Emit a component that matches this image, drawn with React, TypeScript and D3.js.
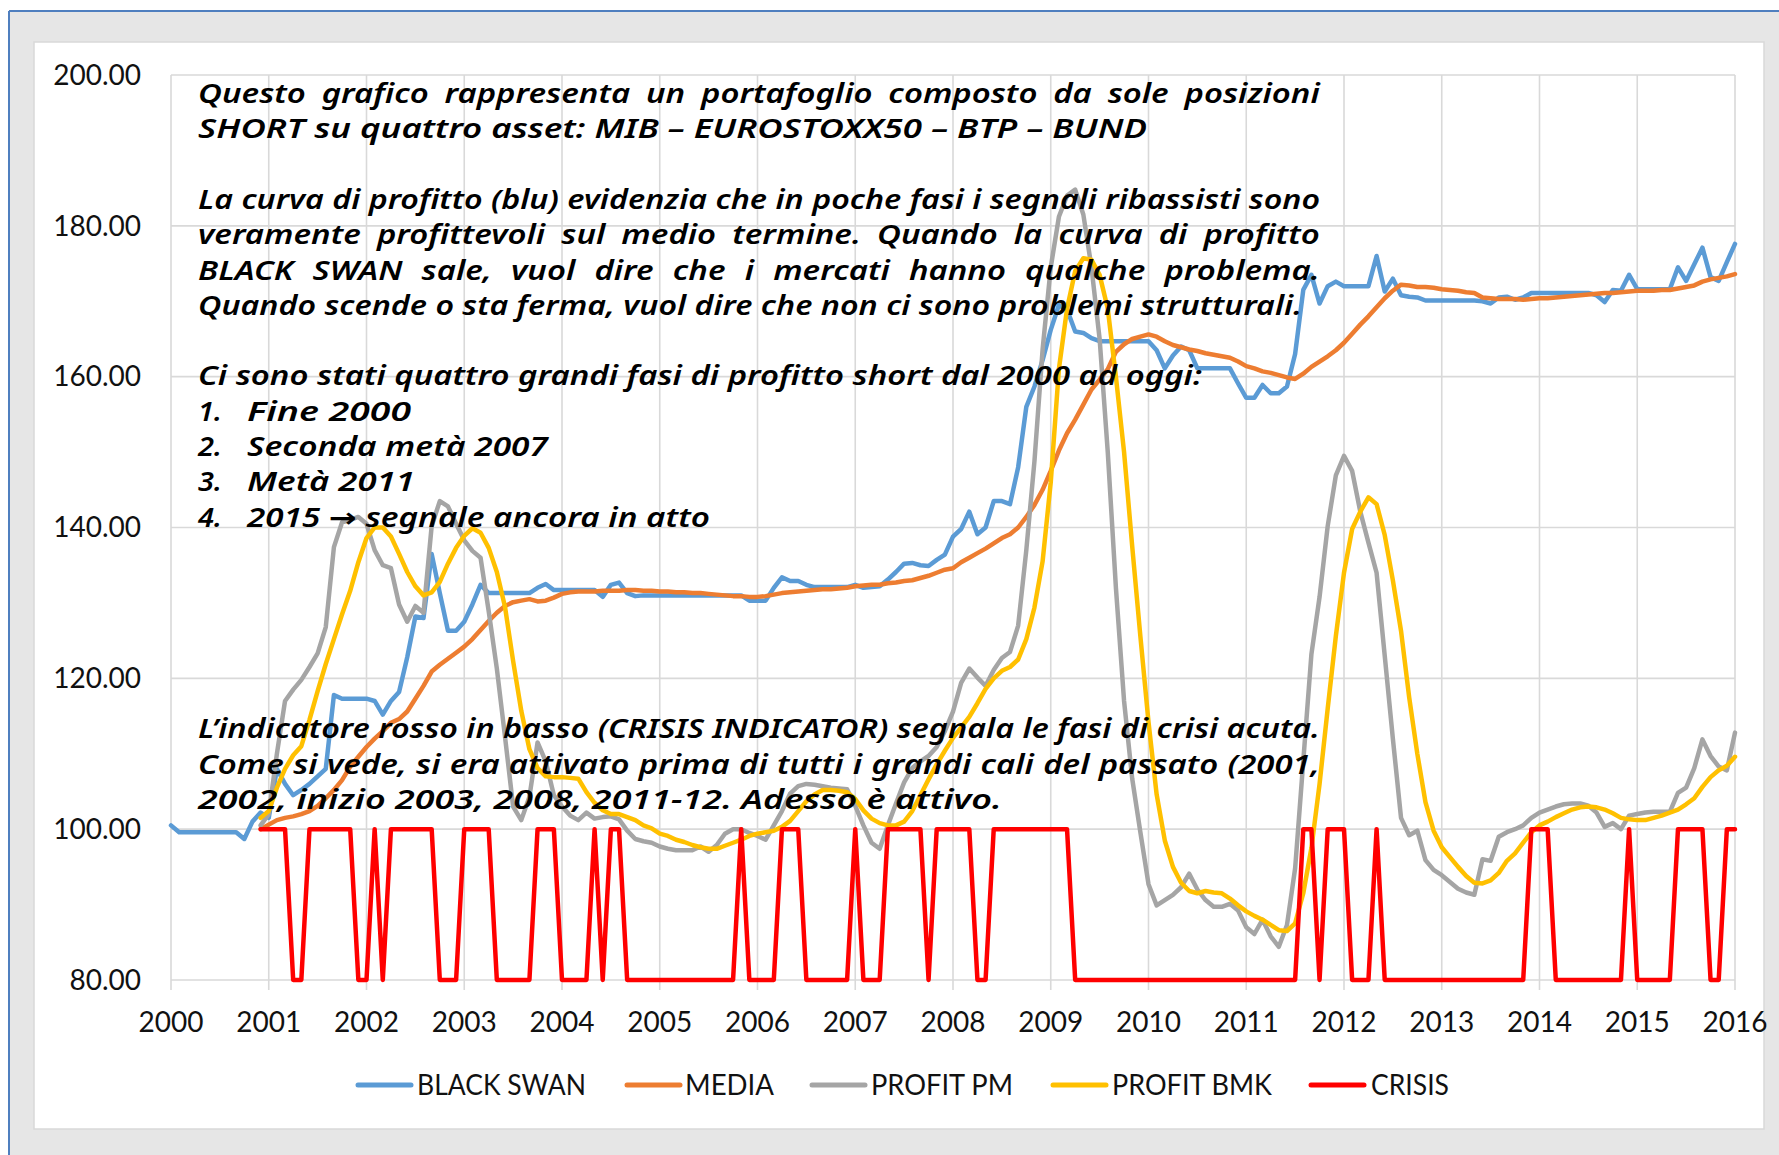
import React from 'react';
import * as d3 from 'd3';

// ---------------- DATA ----------------
// Monthly values. Month index 0 = Jan 2000.
const BLACK_SWAN_START = 0;
const OTHERS_START = 11;

const blackSwan = [
  100.5, 99.6, 99.6, 99.6, 99.6, 99.6, 99.6, 99.6, 99.6, 98.7,
  101.0, 102.2, 101.5, 108.0, 106.0, 104.5, 105.2, 106.0, 107.0, 108.0,
  117.8, 117.3, 117.3, 117.3, 117.3, 117.0, 115.2, 117.0, 118.2, 122.8,
  128.2, 128.0, 136.5, 131.3, 126.3, 126.3, 127.5, 129.8, 132.4, 131.3,
  131.3, 131.3, 131.3, 131.3, 131.3, 132.0, 132.5, 131.7, 131.7, 131.7,
  131.7, 131.7, 131.7, 130.8, 132.4, 132.7, 131.3, 130.9, 131.0, 131.0,
  131.0, 131.0, 131.0, 131.0, 131.0, 131.0, 131.0, 131.0, 131.0, 131.0,
  131.0, 130.3, 130.3, 130.3, 132.0, 133.4, 132.9, 132.9, 132.4, 132.1,
  132.1, 132.1, 132.1, 132.1, 132.4, 132.0, 132.1, 132.2, 133.1, 134.1,
  135.2, 135.3, 135.0, 134.9, 135.7, 136.4, 138.8, 139.8, 142.1, 139.1,
  140.0, 143.5, 143.5, 143.1, 148.0, 156.0, 158.7, 162.2, 166.2, 169.5,
  168.9, 166.0, 165.8, 165.1, 164.7, 164.7, 164.7, 164.7, 164.7, 164.7,
  164.7, 163.5, 161.1, 162.8, 164.0, 163.5, 161.1, 161.1, 161.1, 161.1,
  161.1, 159.1, 157.2, 157.2, 158.9, 157.8, 157.8, 158.7, 163.0, 171.5,
  173.5, 169.7, 172.0, 172.6, 172.0, 172.0, 172.0, 172.0, 176.0, 171.3,
  173.0, 170.8, 170.6, 170.5, 170.1, 170.1, 170.1, 170.1, 170.1, 170.1,
  170.1, 170.0, 169.7, 170.5, 170.6, 170.2, 170.5, 171.1, 171.1, 171.1,
  171.1, 171.1, 171.1, 171.1, 171.1, 170.8, 169.9, 171.5, 171.4, 173.5,
  171.6, 171.6, 171.6, 171.6, 171.6, 174.5, 172.7, 174.9, 177.1, 173.2,
  172.7, 175.2, 177.6,
];

const media = [
  100.0, 100.6, 101.2, 101.5, 101.7, 102.0, 102.4, 103.1, 104.1,
  105.2, 106.5, 108.3, 109.6, 110.9, 112.0, 113.0, 114.1, 114.6, 115.6,
  117.3, 119.0, 120.9, 121.8, 122.6, 123.4, 124.2, 125.2, 126.4, 127.6,
  128.7, 129.6, 130.1, 130.3, 130.5, 130.2, 130.3, 130.7, 131.2, 131.4,
  131.5, 131.5, 131.5, 131.6, 131.6, 131.6, 131.7, 131.7, 131.6, 131.6,
  131.5, 131.5, 131.4, 131.4, 131.3, 131.3, 131.2, 131.1, 131.0, 130.9,
  130.9, 130.8, 130.8, 130.9, 131.1, 131.3, 131.4, 131.5, 131.6, 131.7,
  131.8, 131.8, 131.9, 132.0, 132.2, 132.3, 132.4, 132.4, 132.6, 132.7,
  132.9, 133.0, 133.3, 133.6, 134.0, 134.4, 134.6, 135.4, 136.0, 136.6,
  137.2, 137.9, 138.6, 139.1, 140.0, 141.4, 143.0, 145.0, 147.5, 150.2,
  152.5, 154.3, 156.3, 158.3, 159.6, 161.0, 163.3, 164.3, 165.0, 165.3,
  165.6, 165.3, 164.7, 164.2, 163.9, 163.6, 163.4, 163.1, 162.9, 162.7,
  162.5, 162.0, 161.4, 161.1, 160.7, 160.5, 160.2, 159.9, 159.7, 160.4,
  161.3, 162.0, 162.7, 163.5, 164.5, 165.7, 166.9, 168.0, 169.2, 170.4,
  171.4, 172.2, 172.1, 171.9, 171.9, 171.8, 171.6, 171.5, 171.4, 171.2,
  171.1, 170.5, 170.4, 170.3, 170.3, 170.3, 170.2, 170.3, 170.4, 170.4,
  170.5, 170.6, 170.7, 170.8, 170.9, 171.0, 171.1, 171.1, 171.2, 171.3,
  171.4, 171.4, 171.4, 171.5, 171.5, 171.7, 171.9, 172.1, 172.6, 172.9,
  173.1, 173.3, 173.6,
];

const profitPM = [
  100.5, 102.0, 110.0, 117.0, 118.5, 119.8, 121.5, 123.3, 126.8,
  137.4, 140.7, 141.0, 141.4, 140.5, 137.0, 135.0, 134.6, 129.8, 127.5,
  129.6, 128.7, 140.2, 143.5, 142.8, 140.5, 138.3, 136.9, 136.0, 128.9,
  121.3, 112.3, 103.0, 101.2, 104.3, 111.5, 109.0, 104.5, 103.0, 101.8,
  101.2, 102.2, 101.4, 101.6, 101.7, 101.3, 99.8, 98.7, 98.4, 98.2,
  97.7, 97.4, 97.2, 97.2, 97.2, 97.7, 97.0, 97.9, 99.4, 100.0,
  100.0, 99.5, 99.1, 98.6, 100.5, 102.4, 104.7, 105.7, 106.0, 105.9,
  105.7, 105.5, 105.4, 105.3, 103.1, 100.5, 98.2, 97.4, 100.5, 103.4,
  106.2, 108.1, 109.0, 109.7, 110.9, 113.0, 115.6, 119.4, 121.3, 120.1,
  119.0, 121.1, 122.7, 123.5, 127.0, 137.0, 148.8, 163.6, 174.5, 181.2,
  184.0, 184.8, 181.5, 174.5, 165.0, 150.0, 132.0, 117.0, 106.7, 99.6,
  92.7, 89.9, 90.6, 91.3, 92.3, 94.1, 92.0, 90.6, 89.7, 89.7,
  90.1, 89.2, 87.0, 86.1, 88.0, 85.8, 84.4, 87.3, 94.8, 109.0,
  123.2, 130.8, 140.2, 146.9, 149.5, 147.5, 142.1, 138.0, 134.0, 123.0,
  112.0, 101.5, 99.2, 99.8, 95.9, 94.6, 93.9, 93.0, 92.1, 91.6,
  91.3, 96.0, 95.8, 99.0, 99.6, 100.0, 100.5, 101.5, 102.2, 102.6,
  103.0, 103.3, 103.4, 103.4, 103.1, 102.2, 100.3, 100.8, 100.0, 101.8,
  102.0, 102.2, 102.3, 102.3, 102.3, 104.8, 105.5, 108.1, 111.9, 109.7,
  108.3, 107.8, 112.8,
];

const profitBMK = [
  101.5, 102.4, 105.5, 108.0, 109.8, 111.0, 114.5, 118.3, 121.9,
  125.2, 128.5, 131.6, 135.4, 138.6, 140.0, 140.0, 138.8, 136.5, 134.1,
  132.2, 131.0, 131.4, 132.8, 135.2, 137.3, 138.9, 139.9, 139.3, 137.3,
  134.1, 129.5, 122.3, 115.7, 110.6, 108.1, 107.0, 106.9, 106.9, 106.8,
  106.7, 104.9, 103.5, 102.5, 102.0, 102.0, 101.6, 101.2, 100.5, 100.1,
  99.4, 99.1, 98.6, 98.3, 97.9, 97.6, 97.4, 97.4, 97.8, 98.2,
  98.6, 99.1, 99.4, 99.6, 99.8, 100.3, 101.1, 102.4, 103.7, 104.6,
  105.2, 105.2, 105.1, 104.9, 104.0, 102.5, 101.4, 100.8, 100.5, 100.5,
  101.0, 102.4, 104.5, 106.6, 108.6, 110.4, 112.1, 113.5, 114.9, 116.7,
  118.6, 120.0, 121.0, 121.5, 122.5, 125.2, 129.4, 135.5, 146.0, 161.0,
  169.0, 174.0, 175.7, 175.5, 173.5, 169.0, 160.0, 150.0, 137.5, 125.6,
  114.2, 104.6, 98.5, 95.0, 92.9, 91.8, 91.5, 91.8, 91.6, 91.5,
  90.8, 89.9, 89.1, 88.5, 88.0, 87.3, 86.6, 86.5, 87.5, 91.5,
  97.5, 106.0, 116.0, 125.6, 134.0, 139.8, 142.1, 144.0, 143.1, 139.0,
  133.0, 126.3, 117.5, 110.0, 103.6, 99.8, 97.6, 96.3, 95.0, 93.8,
  92.9, 92.8, 93.2, 94.2, 95.8, 96.8, 98.2, 99.6, 100.5, 101.0,
  101.6, 102.1, 102.6, 102.9, 103.0, 102.9, 102.6, 102.1, 101.5, 101.3,
  101.2, 101.2, 101.5, 101.8, 102.2, 102.6, 103.3, 104.1, 105.6, 106.9,
  107.8, 108.4, 109.6,
];

const crisis = [
  100, 100, 100, 100, 80, 80, 100, 100, 100, 100,
  100, 100, 80, 80, 100, 80, 100, 100, 100, 100,
  100, 100, 80, 80, 80, 100, 100, 100, 100, 80,
  80, 80, 80, 80, 100, 100, 100, 80, 80, 80,
  80, 100, 80, 100, 100, 80, 80, 80, 80, 80,
  80, 80, 80, 80, 80, 80, 80, 80, 80, 100,
  80, 80, 80, 80, 100, 100, 100, 80, 80, 80,
  80, 80, 80, 100, 80, 80, 80, 100, 100, 100,
  100, 100, 80, 100, 100, 100, 100, 100, 80, 80,
  100, 100, 100, 100, 100, 100, 100, 100, 100, 100,
  80, 80, 80, 80, 80, 80, 80, 80, 80, 80,
  80, 80, 80, 80, 80, 80, 80, 80, 80, 80,
  80, 80, 80, 80, 80, 80, 80, 80, 100, 100,
  80, 100, 100, 100, 80, 80, 80, 100, 80, 80,
  80, 80, 80, 80, 80, 80, 80, 80, 80, 80,
  80, 80, 80, 80, 80, 80, 100, 100, 100, 80,
  80, 80, 80, 80, 80, 80, 80, 80, 100, 80,
  80, 80, 80, 80, 100, 100, 100, 100, 80, 80,
  100, 100,
];

const seriesNames = ['BLACK SWAN', 'MEDIA', 'PROFIT PM', 'PROFIT BMK', 'CRISIS'];
const yTicks = [80, 100, 120, 140, 160, 180, 200];
const xTicks = [2000, 2001, 2002, 2003, 2004, 2005, 2006, 2007, 2008, 2009, 2010, 2011, 2012, 2013, 2014, 2015, 2016];

const noteParagraph1 = [
  'Questo grafico rappresenta un portafoglio composto da sole posizioni',
  'SHORT su quattro asset: MIB – EUROSTOXX50 – BTP – BUND',
];
const noteParagraph2 = [
  'La curva di profitto (blu) evidenzia che in poche fasi i segnali ribassisti sono',
  'veramente profittevoli sul medio termine. Quando la curva di profitto',
  'BLACK SWAN sale, vuol dire che i mercati hanno qualche problema.',
  'Quando scende o sta ferma, vuol dire che non ci sono problemi strutturali.',
];
const noteParagraph3 = ['Ci sono stati quattro grandi fasi di profitto short dal 2000 ad oggi:'];
const listNumbers = ['1.', '2.', '3.', '4.'];
const listItems = ['Fine 2000', 'Seconda metà 2007', 'Metà 2011', '2015 → segnale ancora in atto'];
const noteParagraph4 = [
  'L’indicatore rosso in basso (CRISIS INDICATOR) segnala le fasi di crisi acuta.',
  'Come si vede, si era attivato prima di tutti i grandi cali del passato (2001,',
  '2002, inizio 2003, 2008, 2011-12. Adesso è attivo.',
];

// ---------------- STYLE / LAYOUT ----------------
const W = 1779;
const H = 1155;
const COLORS = ['#5b9bd5', '#ed7d31', '#a5a5a5', '#ffc000', '#ff0000'];
const AXIS_FONT = 'Lato, "Open Sans", sans-serif';
const NOTE_FAMILY = '"Noto Sans", "DejaVu Sans", sans-serif';
const NOTE_SIZE = 27;
const NOTE_WEIGHT = 600;
const NOTE_CANVAS_FONT = `italic ${NOTE_WEIGHT} ${NOTE_SIZE}px "Noto Sans"`;

let _ctx: CanvasRenderingContext2D | null = null;
function measure(text: string): number {
  if (!_ctx) {
    const c = document.createElement('canvas');
    _ctx = c.getContext('2d');
  }
  if (!_ctx) return text.length * NOTE_SIZE * 0.5;
  _ctx.font = NOTE_CANVAS_FONT;
  return _ctx.measureText(text).width;
}

type NoteLine = { text: string; x: number; y: number; end: number; justify: boolean };

function NoteText({ line, sx }: { line: NoteLine; sx: number }) {
  const target = (line.end - line.x) / sx;
  const nat = measure(line.text);
  const common = {
    x: 0,
    y: 0,
    fontFamily: NOTE_FAMILY,
    fontStyle: 'italic',
    fontWeight: NOTE_WEIGHT,
    fontSize: NOTE_SIZE,
    fill: '#000',
  } as any;
  let el;
  if (line.justify) {
    const gaps = (line.text.match(/ /g) || []).length;
    const ws = gaps > 0 ? (target - nat) / gaps : 0;
    if (ws >= 0) {
      el = (
        <text {...common} style={{ wordSpacing: `${ws}px` }}>
          {line.text}
        </text>
      );
    }
  }
  if (!el) {
    el = (
      <text {...common} textLength={target} lengthAdjust="spacingAndGlyphs">
        {line.text}
      </text>
    );
  }
  return <g transform={`translate(${line.x},${line.y}) scale(${sx},1)`}>{el}</g>;
}

export default function App() {
  const plotL = 171;
  const plotR = 1735;
  const plotT = 75;
  const plotB = 980;

  const x = d3.scaleLinear().domain([2000, 2016]).range([plotL, plotR]);
  const y = d3.scaleLinear().domain([80, 200]).range([plotB, plotT]);

  const toPts = (arr: number[], start: number): [number, number][] =>
    arr.map((v, i) => [2000 + (start + i) / 12, v]);

  const lineGen = d3
    .line<[number, number]>()
    .x((d) => x(d[0]))
    .y((d) => y(d[1]));

  const series = [
    toPts(blackSwan, BLACK_SWAN_START),
    toPts(media, OTHERS_START),
    toPts(profitPM, OTHERS_START),
    toPts(profitBMK, OTHERS_START),
    toPts(crisis, OTHERS_START),
  ];

  const fmt = d3.format('.2f');

  // note lines layout
  const lineY = (i: number) => 103 + i * 35.3;
  const TX = 198;
  const notes: NoteLine[] = [
    { text: noteParagraph1[0], x: TX, y: lineY(0), end: 1320, justify: true },
    { text: noteParagraph1[1], x: TX, y: lineY(1), end: 1147, justify: false },
    { text: noteParagraph2[0], x: TX, y: lineY(3), end: 1320, justify: true },
    { text: noteParagraph2[1], x: TX, y: lineY(4), end: 1320, justify: true },
    { text: noteParagraph2[2], x: TX, y: lineY(5), end: 1320, justify: true },
    { text: noteParagraph2[3], x: TX, y: lineY(6), end: 1302, justify: false },
    { text: noteParagraph3[0], x: TX, y: lineY(8), end: 1202, justify: false },
    { text: noteParagraph4[0], x: TX, y: 738, end: 1320, justify: false },
    { text: noteParagraph4[1], x: TX, y: 773.5, end: 1320, justify: true },
    { text: noteParagraph4[2], x: TX, y: 809, end: 1002, justify: false },
  ];
  const listEnds = [411, 548, 415, 710];
  listNumbers.forEach((n, i) => {
    notes.push({ text: n, x: TX, y: lineY(9 + i), end: TX + 24, justify: false });
    notes.push({ text: listItems[i], x: 247, y: lineY(9 + i), end: listEnds[i], justify: false });
  });

  // common horizontal glyph scale, derived from the lines that are not justified
  const ratios = notes
    .filter((l) => !l.justify && l.text.length > 12)
    .map((l) => (l.end - l.x) / measure(l.text));
  const sx = ratios.length ? (d3.median(ratios) as number) : 1;

  const legendLineX = [358, 627, 812, 1053, 1311];
  const legendTextX = [417, 685, 871, 1112, 1371];
  const legendTextEnd = [586, 774, 1013, 1272, 1449];
  const legendY = 1085;

  return (
    <svg
      width={W}
      height={H}
      viewBox={`0 0 ${W} ${H}`}
      style={{ position: 'absolute', left: 0, top: 0, display: 'block' }}
    >
      <rect x={0} y={0} width={W} height={H} fill="#ffffff" />
      <rect x={9} y={11} width={W - 9} height={H - 11} fill="#e6e6e6" />
      <line x1={9} y1={11} x2={W} y2={11} stroke="#4f7fbf" strokeWidth={2} />
      <line x1={9} y1={11} x2={9} y2={H} stroke="#4f7fbf" strokeWidth={2} />
      <rect x={34} y={42} width={1730} height={1087} fill="#ffffff" stroke="#d9d9d9" strokeWidth={1.5} />

      {/* gridlines */}
      <g stroke="#d9d9d9" strokeWidth={1.6}>
        {yTicks.map((t) => (
          <line key={'h' + t} x1={plotL} x2={plotR} y1={y(t)} y2={y(t)} />
        ))}
        {xTicks.map((t) => (
          <line key={'v' + t} x1={x(t)} x2={x(t)} y1={plotT} y2={plotB + 10} />
        ))}
      </g>

      {/* axis labels */}
      <g fontFamily={AXIS_FONT} fontSize={28} fill="#111">
        {yTicks.map((t) => (
          <text key={'yl' + t} x={141} y={y(t)} dy="0.35em" textAnchor="end">
            {fmt(t)}
          </text>
        ))}
        {xTicks.map((t) => (
          <text key={'xl' + t} x={x(t)} y={1032} textAnchor="middle">
            {t}
          </text>
        ))}
      </g>

      {/* series */}
      <g fill="none" strokeWidth={4.5} strokeLinejoin="round" strokeLinecap="round">
        {series.map((s, i) => (
          <path key={seriesNames[i]} d={lineGen(s) || ''} stroke={COLORS[i]} />
        ))}
      </g>

      {/* annotation */}
      <g>
        {notes.map((l, i) => (
          <NoteText key={i} line={l} sx={sx} />
        ))}
      </g>

      {/* legend */}
      <g fontFamily={AXIS_FONT} fontSize={28} fill="#111">
        {seriesNames.map((n, i) => (
          <g key={n}>
            <line
              x1={legendLineX[i]}
              x2={legendLineX[i] + 53}
              y1={legendY}
              y2={legendY}
              stroke={COLORS[i]}
              strokeWidth={5}
              strokeLinecap="round"
            />
            <text
              x={legendTextX[i]}
              y={legendY + 10}
              textLength={legendTextEnd[i] - legendTextX[i]}
              lengthAdjust="spacingAndGlyphs"
            >
              {n}
            </text>
          </g>
        ))}
      </g>
    </svg>
  );
}
